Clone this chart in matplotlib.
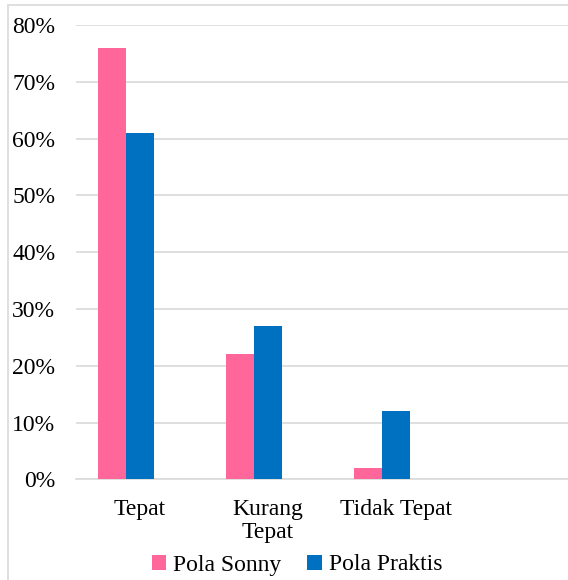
import matplotlib.pyplot as plt
import numpy as np
from matplotlib.patches import Rectangle

CATEGORIES = ['Tepat', 'Kurang\nTepat', 'Tidak Tepat', '']
POLA_SONNY = [0.76, 0.22, 0.02, 0]
POLA_PRAKTIS = [0.61, 0.27, 0.12, 0]
Y_TICKS = [0, 0.1, 0.2, 0.3, 0.4, 0.5, 0.6, 0.7, 0.8]

PINK = '#FF6699'
BLUE = '#0070C0'
GRID = '#D9D9D9'
FS = 17

plt.rcParams['font.family'] = ['Liberation Serif', 'DejaVu Serif']

W, H = 568, 580
fig = plt.figure(figsize=(W / 100, H / 100), dpi=100)

# chart border (runs off the right / bottom edge like the source)
fig.patches.append(Rectangle((8 / W, -0.1), 1.2, (H - 5) / H + 0.1,
                             transform=fig.transFigure, fill=False,
                             edgecolor=GRID, linewidth=1.2))

# plot area, clipped on the right like the original
left, right = 76 / W, 588 / W
bottom, top = (H - 479.3) / H, (H - 25) / H
ax = fig.add_axes([left, bottom, right - left, top - bottom])

x = np.arange(len(CATEGORIES))
bw = 28 / 128  # bar width in category units
# three series slots in the source, third one is empty
ax.bar(x - bw, POLA_SONNY, bw, color=PINK, label='Pola Sonny', zorder=3)
ax.bar(x, POLA_PRAKTIS, bw, color=BLUE, label='Pola Praktis', zorder=3)

ax.set_xlim(-0.5, len(CATEGORIES) - 0.5)
ax.set_ylim(0, 0.8)
ax.set_yticks(Y_TICKS)
ax.set_yticklabels([f'{int(round(v * 100))}%' for v in Y_TICKS])
ax.set_xticks(x)
ax.set_xticklabels(CATEGORIES)
ax.tick_params(axis='y', length=0, pad=15, labelsize=FS)
ax.tick_params(axis='x', length=0, pad=14, labelsize=FS)
for lbl in ax.get_xticklabels():
    lbl.set_linespacing(1.15)
ax.yaxis.grid(True, color=GRID, linewidth=1.2, zorder=0)
for s in ['top', 'right', 'left']:
    ax.spines[s].set_visible(False)
ax.spines['bottom'].set_color(GRID)
ax.spines['bottom'].set_linewidth(1.2)

fig.legend(loc='center', bbox_to_anchor=(297 / W, (H - 565) / H), ncol=2,
           frameon=False, fontsize=FS, handlelength=0.6, handleheight=0.6,
           handletextpad=0.3, columnspacing=1.1, borderpad=0)

fig.savefig('out.png', dpi=100)
